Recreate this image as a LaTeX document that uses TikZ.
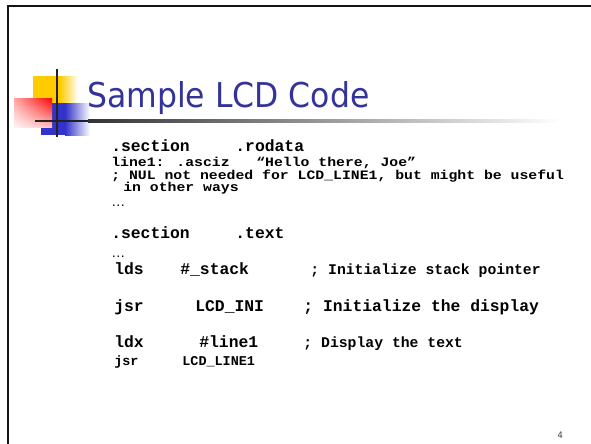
\documentclass[tikz,border=0pt]{standalone}
\usepackage{fontspec}
\setmainfont{Liberation Sans}
\newfontfamily\codefont{Liberation Mono}
\newfontfamily\widecodefont[FakeStretch=1.15]{Liberation Mono}
\newfontfamily\titlefont[FakeStretch=0.92]{DejaVu Sans}
\newfontfamily\dotsfont{Liberation Sans}
\usetikzlibrary{shadings}

\definecolor{logoyellow}{RGB}{255,204,0}
\definecolor{logoblue}{RGB}{51,51,204}
\definecolor{logored}{RGB}{255,0,0}
\definecolor{titleblue}{RGB}{51,51,153}
\definecolor{framegray}{RGB}{20,20,20}
\definecolor{crossgray}{RGB}{34,34,34}

\tikzset{
  codeline/.style={anchor=base west, inner sep=0pt,
    font=\codefont\bfseries\fontsize{#1}{#1}\selectfont},
  widecodeline/.style={anchor=base west, inner sep=0pt,
    font=\widecodefont\bfseries\fontsize{#1}{#1}\selectfont},
  dotsline/.style={anchor=base west, inner sep=0pt,
    font=\dotsfont\fontsize{14}{14}\selectfont},
  titletext/.style={anchor=base west, inner sep=0pt, text=titleblue,
    font=\titlefont\fontsize{34.3}{34.3}\selectfont},
  pagenum/.style={anchor=base west, inner sep=0pt, text=black!75,
    font=\titlefont\fontsize{9}{9}\selectfont},
  frameline/.style={line width=2bp, draw=framegray},
  crossline/.style={line width=2.4bp, draw=crossgray}
}

\begin{document}
\begin{tikzpicture}[x=1bp, y=-1bp]
  % page area (the white fill runs past the edges so no edge pixel stays empty)
  \useasboundingbox (0,0) rectangle (590.5,443.6);
  \fill[white] (-10,-10) rectangle (601,454);

  % slide frame: top and left edges
  \draw[frameline] (8,454) -- (8,6) -- (601,6);

  % logo squares
  \fill[logoyellow] (33,76) rectangle (60,104);
  \shade[left color=logoyellow, right color=white] (60,76) rectangle (78,104);
  \fill[logoblue] (41,103) rectangle (65,135);
  \shade[left color=logoblue, right color=white] (65,103) rectangle (90,135);
  \shade[upper right=logored, upper left=logored!35, lower left=logored!4,
         lower right=logored!25] (14,98) rectangle (52,127);

  % cross lines and the fading rule under the title
  \draw[crossline] (57,69) -- (57,137);
  \draw[crossline] (35,121) -- (89,121);
  \shade[left color=black!80, right color=white] (88,119.8) rectangle (560,122.2);

  % title
  \node[titletext] (title) at (87,107) {Sample LCD Code};

  % code listing
  \node[codeline=16.4] (sec1) at (111,151) {.section};
  \node[codeline=16.4] (rodata) at (235,151) {.rodata};
  \node[widecodeline=12.9] (line1) at (111,166) {line1: .asciz\ \ \ “Hello there, Joe”};
  \node[widecodeline=12.9] (nul) at (111,179) {; NUL not needed for LCD\_LINE1, but might be useful};
  \node[widecodeline=12.9] (ways) at (123,191) {in other ways};
  \node[dotsline] (dots1) at (111,206) {…};
  \node[codeline=16.4] (sec2) at (111,238) {.section};
  \node[codeline=16.4] (text) at (235,238) {.text};
  \node[dotsline] (dots2) at (111,257) {…};

  \node[codeline=16.4] (lds) at (114,274) {lds};
  \node[codeline=16.4] (stack) at (180,274) {\#\_stack};
  \node[codeline=14.8] (ldscmt) at (310,274) {; Initialize stack pointer};

  \node[codeline=16.4] (jsr1) at (114,311) {jsr};
  \node[codeline=16.4] (lcdini) at (195,311) {LCD\_INI};
  \node[codeline=16.4] (jsrcmt) at (303,311) {; Initialize the display};

  \node[codeline=16.4] (ldx) at (114,347) {ldx};
  \node[codeline=16.4] (lbl) at (199,347) {\#line1};
  \node[codeline=14.8] (ldxcmt) at (303,347) {; Display the text};

  \node[codeline=13.5] (jsr2) at (114,365) {jsr};
  \node[codeline=13.5] (lcdline) at (182,365) {LCD\_LINE1};

  % slide number
  \node[pagenum] (page) at (557,438) {4};
\end{tikzpicture}
\end{document}
